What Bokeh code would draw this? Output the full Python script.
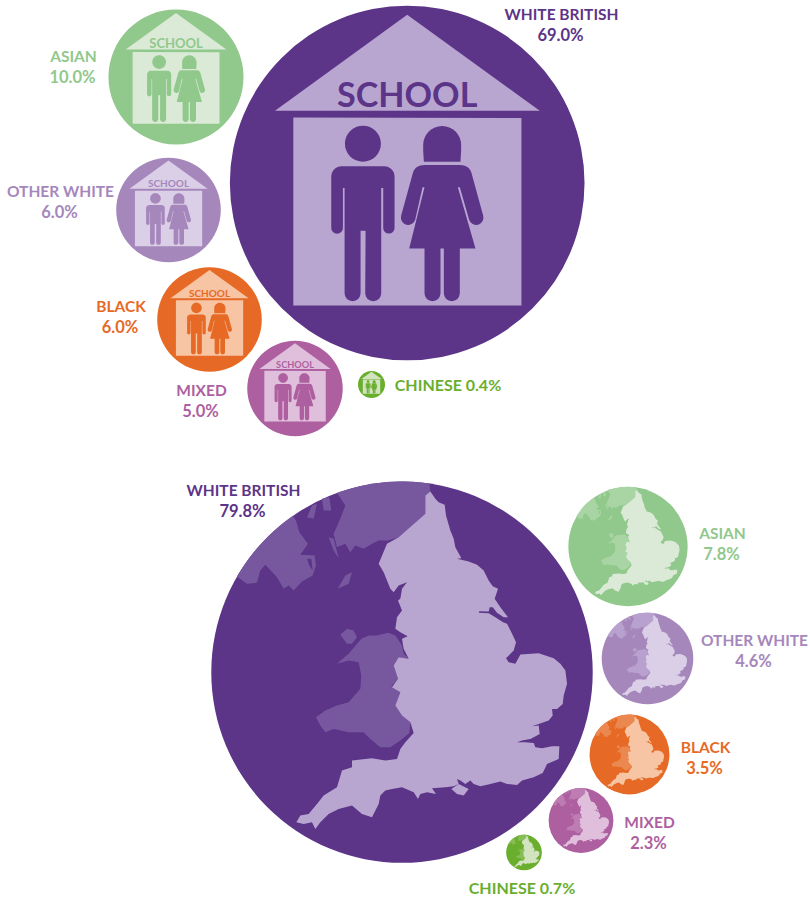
import math
from bokeh.plotting import figure, ColumnDataSource
from bokeh.models import Range1d
from bokeh.embed import file_html
from bokeh.resources import INLINE
from bokeh.core.properties import value

# ---- data ----
school_groups = ["WHITE BRITISH", "ASIAN", "OTHER WHITE", "BLACK", "MIXED", "CHINESE"]
school_values = [69.0, 10.0, 6.0, 6.0, 5.0, 0.4]
census_groups = ["WHITE BRITISH", "ASIAN", "OTHER WHITE", "BLACK", "MIXED", "CHINESE"]
census_values = [79.8, 7.8, 4.6, 3.5, 2.3, 0.7]

# ---- layout and style ----
K = 21.35
DARK = ["#5C3488", "#91C88C", "#A587BC", "#E66A25", "#AE5FA0", "#6AAE2E"]
MID = ["#77589F", "#A9D4A4", "#B8A1CE", "#EB8850", "#BD7CB2", "#86BD55"]
LIGHT = ["#B8A6D1", "#DAEAD6", "#DBCFE7", "#F8C5A4", "#E0BFDC", "#D2E4BF"]
school_cx = [406.7, 175.5, 168, 209, 294.5, 371]
school_cy = [182.5, 76.5, 209.5, 319, 388, 384]
census_cx = [401.5, 627.5, 647, 629, 580.5, 523.5]
census_cy = [671.7, 546, 658, 754, 820, 852]
school_label_x = [561, 73, 60, 120.5, 201]
school_label_y = [13, 55, 190, 305, 389]
census_label_x = [243, 722, 754, 705, 649]
census_label_y = [489, 532, 639, 746, 821]
chinese_school_label = (447.5, 383.5)
chinese_census_label = (521.5, 886.5)
LABEL_SIZE = 15.5
NUMBER_SIZE = 16.5
CHINESE_SIZE = 16
LINE_GAP = 21
FONT = "Lato"

# ---- icon outlines, in reference-crop pixels, turned into unit-circle coordinates ----
def school_unit(pts):
    return [((x - 560) / 532.5, (y - 547) / 532.5) for x, y in pts]

def map_unit(pts):
    return [((x - 590) / 572, (y - 590) / 572) for x, y in pts]

def arc(a0, a1, n=24):
    return [(math.cos(a0 + (a1 - a0) * i / n), math.sin(a0 + (a1 - a0) * i / n)) for i in range(n + 1)]

def cap(cx, cy, r, d0=0, d1=180, n=8):
    return [(cx + r * math.cos(math.radians(d0 + (d1 - d0) * i / n)),
             cy + r * math.sin(math.radians(d0 + (d1 - d0) * i / n))) for i in range(n + 1)]

ROOF = [(560, 42), (163, 330), (958, 330)]
WALL = [(218, 350), (903, 352), (903, 915), (218, 915)]
MAN_HEAD = cap(427, 429, 54, 0, 360, 32)
MAN = ([(332, 535)] + cap(362, 527, 30, 180, 270, 5) + cap(492, 527, 30, 270, 360, 5)
       + cap(505, 682, 17, 0, 180) + [(488, 562), (482, 562)] + cap(458, 878, 24) + [(435, 690), (420, 690)]
       + cap(396, 878, 24) + [(372, 562), (367, 562)] + cap(349.5, 682, 17.5))
HAIR = cap(665, 433, 57, 180, 360, 16) + [(722, 450), (720, 483), (610, 483), (608, 450)]
WOMAN = ([(612, 493), (718, 493)] + cap(722, 525, 32, 285, 343, 5) + cap(767, 651, 22, -17, 163)
         + [(718, 560), (712, 560), (765, 744), (718, 744)] + cap(694, 878, 24) + [(670, 744), (660, 744)]
         + cap(636, 878, 24) + [(612, 744), (566, 744), (612, 560), (606, 560)] + cap(563, 651, 22, 17, 197)
         + cap(608, 525, 32, 197, 255, 5))

ENGLAND = [(675, 48), (690, 70), (700, 80), (718, 88), (722, 120), (735, 165), (745, 190), (750, 215), (768, 248),
           (755, 250), (790, 258), (815, 268), (835, 285), (850, 315), (862, 332), (878, 340), (868, 370), (885, 395),
           (908, 425), (895, 425), (875, 412), (862, 395), (853, 395), (850, 408), (822, 407), (820, 412), (850, 413),
           (870, 425), (893, 440), (905, 445), (918, 470), (932, 500), (925, 525), (902, 548), (910, 560), (930, 565),
           (945, 537), (1000, 533), (1045, 548), (1065, 565), (1080, 585), (1085, 625), (1075, 660), (1072, 685),
           (1055, 700), (1040, 700), (1042, 720), (1030, 735), (1000, 745), (980, 752), (1000, 750), (1003, 775),
           (985, 785), (975, 790), (950, 795), (935, 800), (960, 800), (985, 802), (990, 815), (1010, 818), (1040, 812),
           (1062, 812), (1060, 850), (1025, 865), (1012, 892), (985, 905), (950, 915), (935, 928), (905, 925),
           (885, 918), (855, 925), (825, 932), (805, 925), (795, 915), (780, 925), (765, 915), (755, 910), (760, 925),
           (745, 932), (720, 935), (680, 938), (692, 955), (665, 950), (645, 955), (638, 970), (625, 950), (590, 935),
           (560, 940), (540, 945), (525, 960), (520, 985), (500, 1025), (470, 1015), (440, 990), (400, 1000),
           (370, 1015), (345, 1040), (330, 1060), (320, 1040), (295, 1045), (273, 1040), (285, 1020), (310, 1015),
           (335, 985), (355, 960), (395, 935), (410, 885), (440, 875), (440, 855), (500, 848), (540, 855), (575, 850),
           (585, 820), (600, 800), (625, 772), (615, 740), (590, 720), (570, 690), (585, 650), (560, 635), (578, 610),
           (565, 570), (580, 545), (610, 550), (595, 520), (590, 490), (607, 482), (585, 470), (570, 460), (575, 425),
           (590, 405), (578, 375), (585, 370), (590, 340), (605, 320), (580, 330), (565, 350), (555, 340), (535, 290),
           (520, 265), (545, 205), (580, 185), (660, 115), (660, 60)]
WIGHT = [(738, 940), (760, 925), (790, 940), (775, 960), (755, 955)]
WALES = [(468, 490), (490, 480), (515, 480), (548, 472), (570, 480), (590, 510), (595, 535), (610, 550), (580, 545),
         (565, 570), (578, 610), (558, 632), (585, 650), (570, 690), (590, 720), (615, 740), (612, 772), (585, 795),
         (555, 815), (525, 815), (495, 790), (475, 770), (440, 770), (430, 770), (385, 760), (360, 770), (345, 750),
         (332, 725), (360, 705), (395, 690), (430, 680), (465, 640), (468, 600), (460, 560), (430, 555), (395, 565),
         (430, 535)]
ANGLESEY = [(405, 478), (425, 460), (445, 465), (455, 485), (440, 505), (425, 505)]
SCOTLAND = [(395, 52), (420, 90), (405, 130), (385, 175), (395, 215), (420, 205), (435, 230), (450, 210), (475, 220),
            (500, 205), (520, 195), (548, 195), (580, 185), (660, 115), (660, 60), (675, 48), (672, 24)]
IRELAND = [(272, 135), (282, 170), (308, 205), (285, 238), (328, 240), (332, 270), (322, 300), (290, 318), (265, 345),
           (250, 330), (235, 340), (215, 305), (180, 268), (165, 285), (155, 322), (125, 325), (98, 305)]
LOUGH = [(305, 250), (318, 250), (322, 285), (312, 270)]
ISLES = [[(370, 185), (385, 190), (400, 248), (385, 225)],
         [(305, 125), (320, 90), (335, 85), (325, 130)],
         [(350, 70), (372, 65), (378, 105), (355, 105)],
         [(397, 340), (420, 300), (440, 290), (430, 325)]]

def closed_to_edge(pts):
    unit = map_unit(pts)
    a0 = math.atan2(unit[-1][1], unit[-1][0])
    a1 = math.atan2(unit[0][1], unit[0][0])
    if abs(a1 - a0) > math.pi:
        a1 += 2 * math.pi if a1 < a0 else -2 * math.pi
    return unit + arc(a0, a1)

# ---- build ----
p = figure(width=810, height=898, x_range=Range1d(0, 810), y_range=Range1d(898, 0),
           x_axis_location=None, y_axis_location=None, toolbar_location=None,
           output_backend="svg", min_border=0, outline_line_color=None,
           background_fill_color="white", border_fill_color="white")
p.grid.visible = False

def radius(v):
    return K * math.sqrt(v)

p.circle(x=school_cx + census_cx, y=school_cy + census_cy,
         radius=[radius(v) for v in school_values + census_values],
         fill_color=DARK + DARK, line_color=None)

layers = {"xs": [], "ys": [], "c": []}
def add(unit, cx, cy, r, color):
    layers["xs"].append([cx + u[0] * r for u in unit])
    layers["ys"].append([cy + u[1] * r for u in unit])
    layers["c"].append(color)

text_x, text_y, text_s, text_c = [], [], [], []
for i, v in enumerate(school_values):
    r, cx, cy = radius(v), school_cx[i], school_cy[i]
    add(school_unit(ROOF), cx, cy, r, LIGHT[i])
    add(school_unit(WALL), cx, cy, r, LIGHT[i])
    for shape in (MAN_HEAD, MAN, HAIR, WOMAN):
        add(school_unit(shape), cx, cy, r, DARK[i])
    if i < 5:
        text_x.append(cx)
        text_y.append(cy + (277 - 547) / 532.5 * r)
        text_s.append(f"{r * 0.192:.1f}px")
        text_c.append(DARK[i])

for i, v in enumerate(census_values):
    r, cx, cy = radius(v), census_cx[i], census_cy[i]
    add(closed_to_edge(SCOTLAND), cx, cy, r, MID[i])
    add(closed_to_edge(IRELAND), cx, cy, r, MID[i])
    add(map_unit(LOUGH), cx, cy, r, DARK[i])
    add(map_unit(WALES), cx, cy, r, MID[i])
    add(map_unit(ANGLESEY), cx, cy, r, MID[i])
    for isle in ISLES:
        add(map_unit(isle), cx, cy, r, MID[i])
    add(map_unit(ENGLAND), cx, cy, r, LIGHT[i])
    add(map_unit(WIGHT), cx, cy, r, LIGHT[i])

p.patches("xs", "ys", source=ColumnDataSource(layers), fill_color="c", line_color=None)

for tx, ty, ts, tc in zip(text_x, text_y, text_s, text_c):
    p.text(x=[tx], y=[ty], text=["SCHOOL"], text_color=tc, text_font=value(FONT), text_font_size=ts,
           text_font_style="bold", text_align="center", text_baseline="middle")

def label(x, y, s, color, size=LABEL_SIZE):
    p.text(x=[x], y=[y], text=[s], text_color=color, text_font=value(FONT), text_font_size=f"{size}px",
           text_font_style="bold", text_align="center", text_baseline="middle")

for groups, values, lx, ly in ((school_groups, school_values, school_label_x, school_label_y),
                               (census_groups, census_values, census_label_x, census_label_y)):
    for i in range(5):
        label(lx[i], ly[i], groups[i], DARK[i])
        label(lx[i] - 1, ly[i] + LINE_GAP, f"{values[i]:.1f}%", DARK[i], NUMBER_SIZE)

label(*chinese_school_label, f"{school_groups[5]} {school_values[5]:.1f}%", DARK[5], CHINESE_SIZE)
label(*chinese_census_label, f"{census_groups[5]} {census_values[5]:.1f}%", DARK[5], CHINESE_SIZE)

open("out.html", "w").write(file_html(p, INLINE))
